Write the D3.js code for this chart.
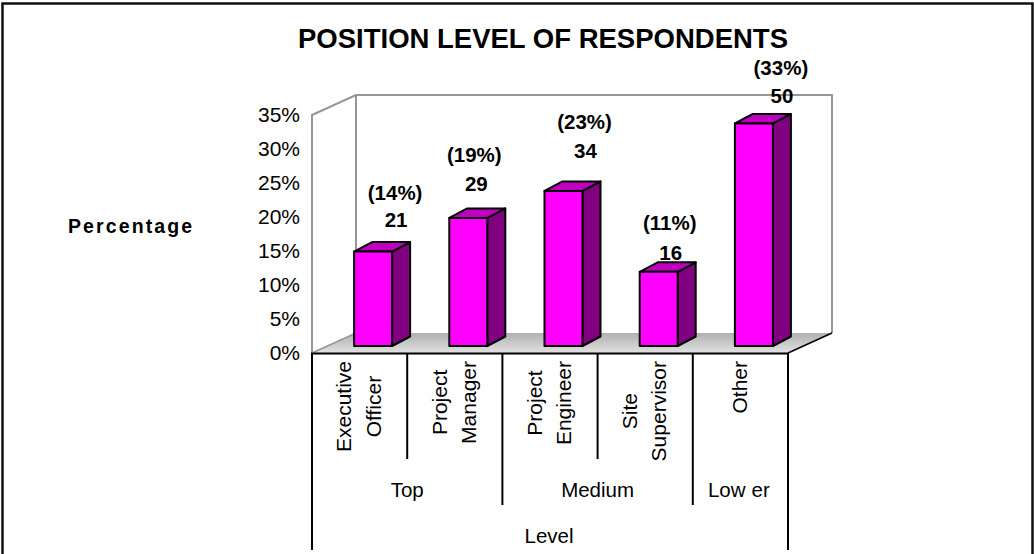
<!DOCTYPE html>
<html><head><meta charset="utf-8">
<script src="https://cdnjs.cloudflare.com/ajax/libs/d3/7.8.5/d3.min.js"></script>
<style>html,body{margin:0;padding:0;background:#fff}svg{display:block}text{font-family:"Liberation Sans",Arial,sans-serif;fill:#000}</style>
</head><body><svg id="c" width="1034" height="554"></svg>
<script>
const categories = [["Executive","Officer"],["Project","Manager"],["Project","Engineer"],["Site","Supervisor"],["Other"]];
const percents = [14,19,23,11,33];
const counts = [21,29,34,16,50];
const groups = ["Top","Medium","Lower"];
const groupSpans = [2,2,1];
const yTicks = [0,5,10,15,20,25,30,35];
// hand placement of the data labels relative to each bar's top centre
const labelDx = [22,6,21,11,27];
const labelCountDx = [23,8,22,12,28];
const labelPctDy = [-52,-56,-62,-42,-48];
const labelCountDy = [-25,-27,-33,-12,-20];

const svg = d3.select("#c");
svg.append("rect").attr("x",2.5).attr("y",3.5).attr("width",1030).attr("height",570)
  .attr("fill","#fff").attr("stroke","#111").attr("stroke-width",2.5);

const x0=312,x1=788,dx=44,dy=-20;
const y = d3.scaleLinear().domain([0,35]).range([353,115]);
const yBar = d3.scaleLinear().domain([0,35]).range([346,110]);
const x = d3.scaleBand().domain(d3.range(5)).range([x0,x1]);
const barW = 38;

const defs = svg.append("defs");
const g = defs.append("linearGradient").attr("id","floor").attr("x1",0).attr("x2",0).attr("y1",0).attr("y2",1);
g.append("stop").attr("offset",0).attr("stop-color","#b0b0b0");
g.append("stop").attr("offset",1).attr("stop-color","#e2e2e2");

const grey="#969696";
const line = d3.line();
// floor
svg.append("path").attr("fill","url(#floor)")
  .attr("d",line([[x0,y(0)],[x0+dx,y(0)+dy],[x1+dx,y(0)+dy],[x1,y(0)]])+"Z");
// walls
svg.append("path").attr("fill","none").attr("stroke",grey).attr("stroke-width",2)
  .attr("d",line([[x0,y(0)],[x0,y(35)],[x0+dx,y(35)+dy],[x1+dx,y(35)+dy],[x1+dx,y(0)+dy]]));
svg.append("path").attr("fill","none").attr("stroke",grey).attr("stroke-width",2)
  .attr("d",line([[x0+dx,y(35)+dy],[x0+dx,y(0)+dy]]));
svg.append("path").attr("fill","none").attr("stroke",grey).attr("stroke-width",1.5)
  .attr("d",line([[x0,y(0)],[x0+dx,y(0)+dy]]));

// bars
const bw=18,bh=-9.5;
const bars = svg.append("g").selectAll("g").data(percents).join("g");
const bx = i => x(i)+x.bandwidth()/2+13.5-barW/2;
const st = {stroke:"#000","stroke-width":2,"stroke-linejoin":"round"};
function ap(sel){for(const k in st)sel.attr(k,st[k]);return sel;}
ap(bars.append("path")).attr("fill","#800080").attr("d",(d,i)=>line([[bx(i)+barW,yBar(d)],[bx(i)+barW+bw,yBar(d)+bh],[bx(i)+barW+bw,yBar(0)+bh],[bx(i)+barW,yBar(0)]])+"Z");
ap(bars.append("path")).attr("fill","#c000c0").attr("d",(d,i)=>line([[bx(i),yBar(d)],[bx(i)+bw,yBar(d)+bh],[bx(i)+barW+bw,yBar(d)+bh],[bx(i)+barW,yBar(d)]])+"Z");
ap(bars.append("rect")).attr("fill","#ff00ff").attr("x",(d,i)=>bx(i)).attr("y",d=>yBar(d)).attr("width",barW).attr("height",d=>yBar(0)-yBar(d));

// value labels
const lab = {"font-size":"20.5px","font-weight":"bold","text-anchor":"middle"};
const labels = svg.append("g").selectAll("g").data(percents).join("g");
function al(sel){for(const k in lab)sel.attr(k,lab[k]);return sel;}
al(labels.append("text")).attr("x",(d,i)=>bx(i)+barW/2+labelDx[i]).attr("y",(d,i)=>yBar(d)+labelPctDy[i]).text(d=>`(${d}%)`);
al(labels.append("text")).attr("x",(d,i)=>bx(i)+barW/2+labelCountDx[i]).attr("y",(d,i)=>yBar(d)+labelCountDy[i]).text((d,i)=>counts[i]);

// y axis
const yAxis = d3.axisLeft(y).tickValues(yTicks).tickFormat(d=>d+"%").tickSize(0).tickPadding(12);
const ya = svg.append("g").attr("transform",`translate(${x0},0)`).call(yAxis);
ya.select(".domain").remove();
ya.selectAll("text").attr("font-size","21px").style("font-family",'"Liberation Sans",Arial,sans-serif').attr("fill","#000");

// title
svg.append("text").attr("x",543).attr("y",48).attr("text-anchor","middle").attr("font-size","27.5px").attr("font-weight","bold").text("POSITION LEVEL OF RESPONDENTS");
svg.append("text").attr("x",68).attr("y",233).attr("font-size","19.5px").attr("font-weight","bold").attr("letter-spacing","2.1px").text("Percentage");

// multi-level axis
const ax = svg.append("g").attr("stroke","#000").attr("stroke-width",2);
const yB=353.5,yCat=459,yGrp=505,yEnd=550;
ax.append("line").attr("x1",x0-1).attr("x2",x1+1).attr("y1",yB).attr("y2",yB);
[x0,x1].forEach(v=>ax.append("line").attr("x1",v).attr("x2",v).attr("y1",yB).attr("y2",yEnd));
[1,3].forEach(i=>ax.append("line").attr("x1",x(i)).attr("x2",x(i)).attr("y1",yB).attr("y2",yCat));
[2,4].forEach(i=>ax.append("line").attr("x1",x(i)).attr("x2",x(i)).attr("y1",yB).attr("y2",yGrp));
ax.append("line").attr("x1",x1+dx).attr("y1",y(0)+dy).attr("x2",x1).attr("y2",y(0)).attr("stroke-width",1.5);

categories.forEach((c,i)=>{
  const cx=x(i)+x.bandwidth()/2, n=c.length;
  const gc=svg.append("g");
  const nodes=c.map((t,j)=>{
    const px=cx+(j-(n-1)/2)*29.5+6.5;
    return gc.append("text").attr("text-anchor","middle").attr("font-size","21px")
      .attr("data-x",px).text(t);
  });
  const longest=d3.max(nodes,s=>s.node().getComputedTextLength());
  nodes.forEach(s=>s.attr("transform",`translate(${s.attr("data-x")},${361+longest/2}) rotate(-90)`));
});
let acc=0;
groups.forEach((t,k)=>{
  const a=x(acc), b=x(acc+groupSpans[k]-1)+x.bandwidth(); acc+=groupSpans[k];
  const tx=svg.append("text").attr("x",(a+b)/2-(t==="Lower"?1.5:0)).attr("y",497).attr("text-anchor","middle").attr("font-size","20.5px");
  if(t==="Lower"){tx.append("tspan").text("Low");tx.append("tspan").attr("dx",6).text("er");}
  else tx.text(t);
});
svg.append("text").attr("x",549).attr("y",543).attr("text-anchor","middle").attr("font-size","20.5px").text("Level");
</script></body></html>
